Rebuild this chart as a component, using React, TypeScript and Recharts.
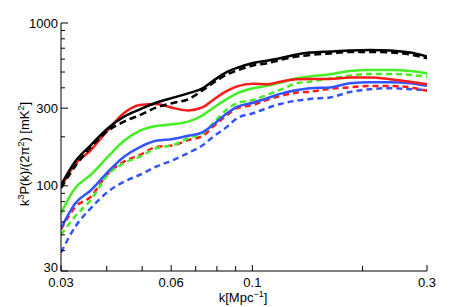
import { LineChart, Line, XAxis, YAxis } from "recharts";

const kValues = [
  0.03, 0.0328, 0.0362, 0.0403, 0.0446, 0.0493, 0.0545, 0.0607, 0.0667, 0.0733, 0.0781, 0.0853,
  0.0908, 0.1004, 0.1097, 0.119, 0.1324, 0.1437, 0.163, 0.1848, 0.2096, 0.2378, 0.2696, 0.3,
];

const blackSolid = [101, 141, 178, 226, 266, 295, 324, 348, 370, 398, 441, 501, 530, 568, 587, 607, 641, 658, 669, 679, 683, 677, 658, 622];
const blackDashed = [97, 132, 173, 218, 248, 272, 302, 323, 340, 388, 428, 483, 511, 549, 566, 593, 622, 637, 650, 664, 664, 660, 641, 607];
const redSolid = [99, 136, 166, 220, 280, 314, 318, 301, 290, 304, 337, 383, 408, 423, 420, 436, 452, 453, 453, 462, 462, 452, 436, 420];
const redDashed = [54, 74, 86, 119, 141, 155, 173, 177, 191, 203, 231, 272, 300, 314, 337, 356, 374, 379, 394, 403, 411, 411, 403, 383];
const greenSolid = [68, 97, 117, 151, 189, 218, 233, 239, 248, 272, 301, 342, 370, 398, 411, 430, 458, 469, 485, 508, 515, 515, 508, 491];
const greenDashed = [50, 65, 82, 117, 138, 151, 170, 178, 196, 211, 242, 295, 322, 337, 362, 388, 427, 436, 457, 475, 487, 487, 480, 469];
const blueSolid = [55, 78, 94, 122, 151, 173, 189, 194, 203, 214, 237, 279, 305, 324, 345, 367, 388, 398, 402, 427, 433, 433, 427, 412];
const blueDashed = [39, 56, 73, 92, 106, 117, 131, 144, 159, 178, 200, 231, 260, 279, 300, 318, 334, 342, 349, 377, 392, 398, 392, 388];

const xTicks = [0.03, 0.04, 0.05, 0.06, 0.07, 0.08, 0.09, 0.1, 0.2, 0.3];
const xTickLabels = [0.03, 0.06, 0.1, 0.3];
const yTicks = [30, 40, 50, 60, 70, 80, 90, 100, 200, 300, 400, 500, 600, 700, 800, 900, 1000];
const yTickLabels = [30, 100, 300, 1000];

const data = kValues.map((k, i) => ({
  k,
  blackSolid: blackSolid[i],
  blackDashed: blackDashed[i],
  redSolid: redSolid[i],
  redDashed: redDashed[i],
  greenSolid: greenSolid[i],
  greenDashed: greenDashed[i],
  blueSolid: blueSolid[i],
  blueDashed: blueDashed[i],
}));

// plot box edges (px)
const L = 61;
const R = 427;
const T = 23;
const B = 271;
const FONT = "'Liberation Sans', Arial, Helvetica, sans-serif";

const BottomTick = (props: any) => {
  const v = props.payload.value;
  const major = xTickLabels.includes(v);
  return (
    <g>
      <line x1={props.x} x2={props.x} y1={B} y2={B - (major ? 6 : 5)} stroke="#000" />
      {major && (
        <text x={props.x} y={B + 16} textAnchor="middle" fontSize={13} fontFamily={FONT} fill="#000">
          {v}
        </text>
      )}
    </g>
  );
};

const TopTick = (props: any) => {
  const major = xTickLabels.includes(props.payload.value);
  return <line x1={props.x} x2={props.x} y1={T} y2={T + (major ? 6 : 5)} stroke="#000" />;
};

const LeftTick = (props: any) => {
  const v = props.payload.value;
  const major = yTickLabels.includes(v);
  return (
    <g>
      <line x1={L} x2={L + (major ? 7 : 4)} y1={props.y} y2={props.y} stroke="#000" />
      {major && (
        <text x={L - 3} y={props.y + (v === 30 ? 1 : 4.5)} textAnchor="end" fontSize={13} fontFamily={FONT} fill="#000">
          {v}
        </text>
      )}
    </g>
  );
};

const RightTick = (props: any) => {
  const major = yTickLabels.includes(props.payload.value);
  return <line x1={R} x2={R - (major ? 7 : 4)} y1={props.y} y2={props.y} stroke="#000" />;
};

const series = [
  { key: "blueDashed", color: "#3355ff", dash: "6 4" },
  { key: "redDashed", color: "#ff1a1a", dash: "6 4" },
  { key: "greenDashed", color: "#44ee22", dash: "6 4" },
  { key: "blueSolid", color: "#3355ff", dash: undefined },
  { key: "greenSolid", color: "#44ee22", dash: undefined },
  { key: "redSolid", color: "#ff1a1a", dash: undefined },
  { key: "blackDashed", color: "#000000", dash: "7 4" },
  { key: "blackSolid", color: "#000000", dash: undefined },
];

export default function App() {
  return (
    <div style={{ position: "absolute", left: 0, top: 0, width: 471, height: 307, background: "#fff" }}>
      <LineChart width={471} height={307} data={data} margin={{ top: 23, right: 44, bottom: 0, left: 0 }}>
        <XAxis
          dataKey="k"
          type="number"
          scale="log"
          domain={[0.03, 0.3]}
          allowDataOverflow
          ticks={xTicks}
          interval={0}
          height={36}
          tickLine={false}
          tick={<BottomTick />}
          stroke="#000"
        />
        <XAxis
          xAxisId="top"
          orientation="top"
          dataKey="k"
          type="number"
          scale="log"
          domain={[0.03, 0.3]}
          allowDataOverflow
          ticks={xTicks}
          interval={0}
          height={0}
          tickLine={false}
          tick={<TopTick />}
          stroke="#000"
        />
        <YAxis
          type="number"
          scale="log"
          domain={[30, 1000]}
          allowDataOverflow
          ticks={yTicks}
          interval={0}
          width={61}
          tickLine={false}
          tick={<LeftTick />}
          stroke="#000"
        />
        <YAxis
          yAxisId="right"
          orientation="right"
          type="number"
          scale="log"
          domain={[30, 1000]}
          allowDataOverflow
          ticks={yTicks}
          interval={0}
          width={0}
          tickLine={false}
          tick={<RightTick />}
          stroke="#000"
        />
        {series.map((s) => (
          <Line
            key={s.key}
            type="monotone"
            dataKey={s.key}
            stroke={s.color}
            strokeWidth={2.5}
            strokeDasharray={s.dash}
            dot={false}
            activeDot={false}
            isAnimationActive={false}
          />
        ))}
      </LineChart>
      <svg width={471} height={307} style={{ position: "absolute", left: 0, top: 0, pointerEvents: "none" }}>
        <text
          transform="translate(29,154) rotate(-90)"
          textAnchor="middle"
          fontSize={13}
          fontFamily={FONT}
          fill="#000"
        >
          k<tspan dy={-5} fontSize={9}>3</tspan>
          <tspan dy={5}>P(k)/(2π</tspan>
          <tspan dy={-5} fontSize={9}>2</tspan>
          <tspan dy={5}>) [mK</tspan>
          <tspan dy={-5} fontSize={9}>2</tspan>
          <tspan dy={5}>]</tspan>
        </text>
        <text x={243} y={302} textAnchor="middle" fontSize={13} fontFamily={FONT} fill="#000">
          k[Mpc<tspan dy={-5} fontSize={9}>−1</tspan>
          <tspan dy={5}>]</tspan>
        </text>
      </svg>
    </div>
  );
}
